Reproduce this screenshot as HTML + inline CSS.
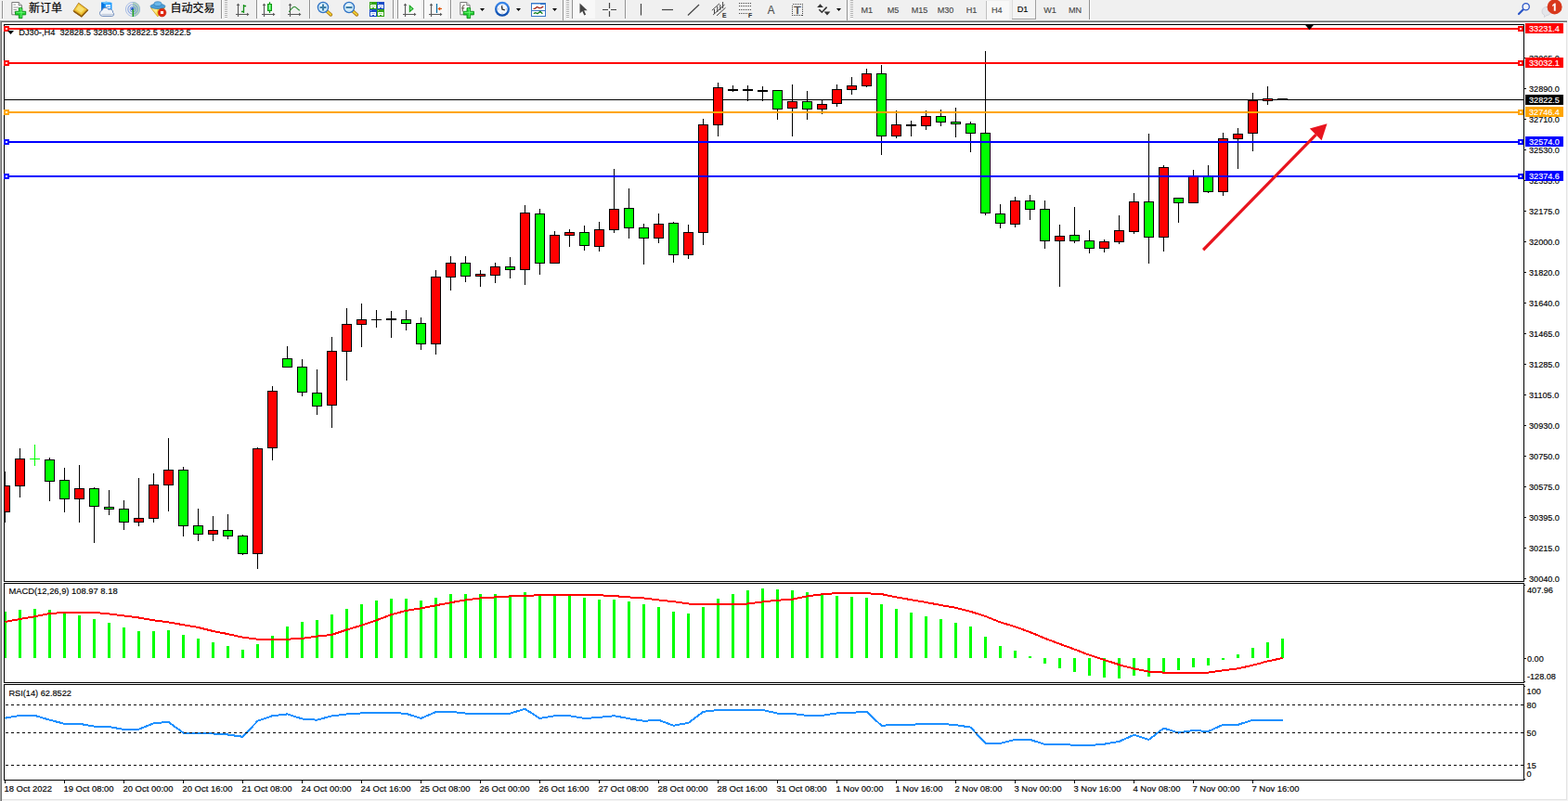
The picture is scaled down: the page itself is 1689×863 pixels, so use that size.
<!DOCTYPE html>
<html><head><meta charset="utf-8"><title>DJ30 H4</title>
<style>
html,body{margin:0;padding:0;background:#fff;overflow:hidden}
svg{display:block;font-family:"Liberation Sans",sans-serif}
rect{shape-rendering:crispEdges}
</style></head><body>
<svg width="1689" height="863" viewBox="0 0 1689 863">
<rect x="0" y="0" width="1689" height="863" fill="#fff"/>
<rect x="0" y="0" width="1689" height="22" fill="#f0f0f0"/>
<rect x="0" y="21" width="1689" height="1" fill="#f6f6f6"/>
<rect x="0" y="22" width="1689" height="1" fill="#a6a6a6"/>
<rect x="0" y="23" width="1689" height="1" fill="#6e6e6e"/>
<rect x="0" y="22" width="1" height="841" fill="#a0a0a0"/>
<rect x="1" y="23" width="1" height="840" fill="#6e6e6e"/>
<rect x="1688" y="22" width="1" height="841" fill="#f4f4f4"/>
<rect x="1687" y="24" width="1" height="838" fill="#e3e3e3"/>
<rect x="0" y="862" width="1689" height="1" fill="#f4f4f4"/>
<rect x="2" y="861" width="1686" height="1" fill="#e3e3e3"/>
<rect x="4" y="26" width="1638" height="1" fill="#000"/>
<rect x="4" y="26" width="1" height="601" fill="#000"/>
<rect x="1641" y="26" width="1" height="601" fill="#000"/>
<rect x="4" y="628" width="1" height="108" fill="#000"/>
<rect x="1641" y="628" width="1" height="108" fill="#000"/>
<rect x="4" y="737" width="1" height="104" fill="#000"/>
<rect x="1641" y="737" width="1" height="104" fill="#000"/>
<rect x="4" y="626" width="1638" height="1" fill="#000"/>
<rect x="4" y="628" width="1638" height="1" fill="#000"/>
<rect x="4" y="735" width="1638" height="1" fill="#000"/>
<rect x="4" y="737" width="1638" height="1" fill="#000"/>
<rect x="4" y="840" width="1638" height="1" fill="#000"/>
<rect x="1642" y="630" width="1" height="1" fill="#000"/>
<rect x="1642" y="734" width="1" height="1" fill="#000"/>
<rect x="1642" y="739" width="1" height="1" fill="#000"/>
<rect x="1642" y="839" width="1" height="1" fill="#000"/>
<rect x="5" y="107" width="1636" height="1" fill="#000"/>
<g id="candles">
<rect x="5" y="508" width="1" height="55" fill="#000"/>
<rect x="0" y="523" width="11" height="29" fill="#000"/>
<rect x="1" y="524" width="9" height="27" fill="#ff0000"/>
<rect x="21" y="483" width="1" height="53" fill="#000"/>
<rect x="16" y="494" width="11" height="30" fill="#000"/>
<rect x="17" y="495" width="9" height="28" fill="#ff0000"/>
<rect x="37" y="479" width="1" height="23" fill="#00ff00"/>
<rect x="32" y="494" width="11" height="1" fill="#00ff00"/>
<rect x="53" y="493" width="1" height="47" fill="#000"/>
<rect x="48" y="495" width="11" height="24" fill="#000"/>
<rect x="49" y="496" width="9" height="22" fill="#00ff00"/>
<rect x="69" y="504" width="1" height="48" fill="#000"/>
<rect x="64" y="517" width="11" height="21" fill="#000"/>
<rect x="65" y="518" width="9" height="19" fill="#00ff00"/>
<rect x="85" y="501" width="1" height="62" fill="#000"/>
<rect x="80" y="526" width="11" height="12" fill="#000"/>
<rect x="81" y="527" width="9" height="10" fill="#ff0000"/>
<rect x="101" y="525" width="1" height="60" fill="#000"/>
<rect x="96" y="526" width="11" height="20" fill="#000"/>
<rect x="97" y="527" width="9" height="18" fill="#00ff00"/>
<rect x="117" y="528" width="1" height="27" fill="#000"/>
<rect x="112" y="546" width="11" height="3" fill="#000"/>
<rect x="113" y="547" width="9" height="1" fill="#00ff00"/>
<rect x="133" y="539" width="1" height="32" fill="#000"/>
<rect x="128" y="548" width="11" height="15" fill="#000"/>
<rect x="129" y="549" width="9" height="13" fill="#00ff00"/>
<rect x="149" y="515" width="1" height="52" fill="#000"/>
<rect x="144" y="558" width="11" height="5" fill="#000"/>
<rect x="145" y="559" width="9" height="3" fill="#ff0000"/>
<rect x="165" y="510" width="1" height="53" fill="#000"/>
<rect x="160" y="522" width="11" height="37" fill="#000"/>
<rect x="161" y="523" width="9" height="35" fill="#ff0000"/>
<rect x="181" y="472" width="1" height="79" fill="#000"/>
<rect x="176" y="506" width="11" height="17" fill="#000"/>
<rect x="177" y="507" width="9" height="15" fill="#ff0000"/>
<rect x="197" y="503" width="1" height="75" fill="#000"/>
<rect x="192" y="506" width="11" height="61" fill="#000"/>
<rect x="193" y="507" width="9" height="59" fill="#00ff00"/>
<rect x="213" y="548" width="1" height="35" fill="#000"/>
<rect x="208" y="566" width="11" height="10" fill="#000"/>
<rect x="209" y="567" width="9" height="8" fill="#00ff00"/>
<rect x="229" y="556" width="1" height="27" fill="#000"/>
<rect x="224" y="571" width="11" height="5" fill="#000"/>
<rect x="225" y="572" width="9" height="3" fill="#ff0000"/>
<rect x="245" y="554" width="1" height="27" fill="#000"/>
<rect x="240" y="571" width="11" height="7" fill="#000"/>
<rect x="241" y="572" width="9" height="5" fill="#00ff00"/>
<rect x="261" y="576" width="1" height="22" fill="#000"/>
<rect x="256" y="577" width="11" height="20" fill="#000"/>
<rect x="257" y="578" width="9" height="18" fill="#00ff00"/>
<rect x="277" y="482" width="1" height="131" fill="#000"/>
<rect x="272" y="483" width="11" height="114" fill="#000"/>
<rect x="273" y="484" width="9" height="112" fill="#ff0000"/>
<rect x="293" y="416" width="1" height="80" fill="#000"/>
<rect x="288" y="421" width="11" height="62" fill="#000"/>
<rect x="289" y="422" width="9" height="60" fill="#ff0000"/>
<rect x="309" y="373" width="1" height="23" fill="#000"/>
<rect x="304" y="386" width="11" height="10" fill="#000"/>
<rect x="305" y="387" width="9" height="8" fill="#00ff00"/>
<rect x="325" y="387" width="1" height="40" fill="#000"/>
<rect x="320" y="395" width="11" height="28" fill="#000"/>
<rect x="321" y="396" width="9" height="26" fill="#00ff00"/>
<rect x="341" y="398" width="1" height="49" fill="#000"/>
<rect x="336" y="423" width="11" height="15" fill="#000"/>
<rect x="337" y="424" width="9" height="13" fill="#00ff00"/>
<rect x="357" y="363" width="1" height="98" fill="#000"/>
<rect x="352" y="378" width="11" height="59" fill="#000"/>
<rect x="353" y="379" width="9" height="57" fill="#ff0000"/>
<rect x="373" y="332" width="1" height="78" fill="#000"/>
<rect x="368" y="349" width="11" height="30" fill="#000"/>
<rect x="369" y="350" width="9" height="28" fill="#ff0000"/>
<rect x="389" y="327" width="1" height="47" fill="#000"/>
<rect x="384" y="344" width="11" height="6" fill="#000"/>
<rect x="385" y="345" width="9" height="4" fill="#ff0000"/>
<rect x="405" y="334" width="1" height="19" fill="#000"/>
<rect x="400" y="344" width="11" height="1" fill="#000"/>
<rect x="421" y="335" width="1" height="29" fill="#000"/>
<rect x="416" y="343" width="11" height="2" fill="#000"/>
<rect x="437" y="334" width="1" height="22" fill="#000"/>
<rect x="432" y="344" width="11" height="5" fill="#000"/>
<rect x="433" y="345" width="9" height="3" fill="#00ff00"/>
<rect x="453" y="342" width="1" height="35" fill="#000"/>
<rect x="448" y="348" width="11" height="23" fill="#000"/>
<rect x="449" y="349" width="9" height="21" fill="#00ff00"/>
<rect x="469" y="291" width="1" height="91" fill="#000"/>
<rect x="464" y="298" width="11" height="73" fill="#000"/>
<rect x="465" y="299" width="9" height="71" fill="#ff0000"/>
<rect x="485" y="276" width="1" height="37" fill="#000"/>
<rect x="480" y="283" width="11" height="16" fill="#000"/>
<rect x="481" y="284" width="9" height="14" fill="#ff0000"/>
<rect x="501" y="276" width="1" height="28" fill="#000"/>
<rect x="496" y="283" width="11" height="15" fill="#000"/>
<rect x="497" y="284" width="9" height="13" fill="#00ff00"/>
<rect x="517" y="291" width="1" height="18" fill="#000"/>
<rect x="512" y="295" width="11" height="3" fill="#000"/>
<rect x="513" y="296" width="9" height="1" fill="#ff0000"/>
<rect x="533" y="283" width="1" height="22" fill="#000"/>
<rect x="528" y="287" width="11" height="10" fill="#000"/>
<rect x="529" y="288" width="9" height="8" fill="#ff0000"/>
<rect x="549" y="277" width="1" height="23" fill="#000"/>
<rect x="544" y="287" width="11" height="4" fill="#000"/>
<rect x="545" y="288" width="9" height="2" fill="#00ff00"/>
<rect x="565" y="221" width="1" height="86" fill="#000"/>
<rect x="560" y="229" width="11" height="62" fill="#000"/>
<rect x="561" y="230" width="9" height="60" fill="#ff0000"/>
<rect x="581" y="225" width="1" height="71" fill="#000"/>
<rect x="576" y="230" width="11" height="54" fill="#000"/>
<rect x="577" y="231" width="9" height="52" fill="#00ff00"/>
<rect x="597" y="249" width="1" height="34" fill="#000"/>
<rect x="592" y="253" width="11" height="31" fill="#000"/>
<rect x="593" y="254" width="9" height="29" fill="#ff0000"/>
<rect x="613" y="247" width="1" height="19" fill="#000"/>
<rect x="608" y="250" width="11" height="4" fill="#000"/>
<rect x="609" y="251" width="9" height="2" fill="#ff0000"/>
<rect x="629" y="243" width="1" height="27" fill="#000"/>
<rect x="624" y="250" width="11" height="15" fill="#000"/>
<rect x="625" y="251" width="9" height="13" fill="#00ff00"/>
<rect x="645" y="239" width="1" height="32" fill="#000"/>
<rect x="640" y="247" width="11" height="19" fill="#000"/>
<rect x="641" y="248" width="9" height="17" fill="#ff0000"/>
<rect x="661" y="182" width="1" height="69" fill="#000"/>
<rect x="656" y="225" width="11" height="23" fill="#000"/>
<rect x="657" y="226" width="9" height="21" fill="#ff0000"/>
<rect x="677" y="203" width="1" height="54" fill="#000"/>
<rect x="672" y="224" width="11" height="22" fill="#000"/>
<rect x="673" y="225" width="9" height="20" fill="#00ff00"/>
<rect x="693" y="241" width="1" height="44" fill="#000"/>
<rect x="688" y="245" width="11" height="12" fill="#000"/>
<rect x="689" y="246" width="9" height="10" fill="#00ff00"/>
<rect x="709" y="230" width="1" height="32" fill="#000"/>
<rect x="704" y="241" width="11" height="16" fill="#000"/>
<rect x="705" y="242" width="9" height="14" fill="#ff0000"/>
<rect x="725" y="239" width="1" height="44" fill="#000"/>
<rect x="720" y="240" width="11" height="35" fill="#000"/>
<rect x="721" y="241" width="9" height="33" fill="#00ff00"/>
<rect x="741" y="242" width="1" height="37" fill="#000"/>
<rect x="736" y="250" width="11" height="25" fill="#000"/>
<rect x="737" y="251" width="9" height="23" fill="#ff0000"/>
<rect x="757" y="128" width="1" height="136" fill="#000"/>
<rect x="752" y="134" width="11" height="117" fill="#000"/>
<rect x="753" y="135" width="9" height="115" fill="#ff0000"/>
<rect x="773" y="89" width="1" height="58" fill="#000"/>
<rect x="768" y="94" width="11" height="41" fill="#000"/>
<rect x="769" y="95" width="9" height="39" fill="#ff0000"/>
<rect x="789" y="92" width="1" height="7" fill="#000"/>
<rect x="784" y="96" width="11" height="2" fill="#000"/>
<rect x="805" y="92" width="1" height="17" fill="#000"/>
<rect x="800" y="96" width="11" height="2" fill="#000"/>
<rect x="821" y="93" width="1" height="16" fill="#000"/>
<rect x="816" y="97" width="11" height="2" fill="#000"/>
<rect x="837" y="97" width="1" height="32" fill="#000"/>
<rect x="832" y="97" width="11" height="21" fill="#000"/>
<rect x="833" y="98" width="9" height="19" fill="#00ff00"/>
<rect x="853" y="91" width="1" height="56" fill="#000"/>
<rect x="848" y="109" width="11" height="8" fill="#000"/>
<rect x="849" y="110" width="9" height="6" fill="#ff0000"/>
<rect x="869" y="98" width="1" height="31" fill="#000"/>
<rect x="864" y="109" width="11" height="9" fill="#000"/>
<rect x="865" y="110" width="9" height="7" fill="#00ff00"/>
<rect x="885" y="108" width="1" height="15" fill="#000"/>
<rect x="880" y="112" width="11" height="6" fill="#000"/>
<rect x="881" y="113" width="9" height="4" fill="#ff0000"/>
<rect x="901" y="91" width="1" height="24" fill="#000"/>
<rect x="896" y="96" width="11" height="16" fill="#000"/>
<rect x="897" y="97" width="9" height="14" fill="#ff0000"/>
<rect x="917" y="83" width="1" height="19" fill="#000"/>
<rect x="912" y="92" width="11" height="5" fill="#000"/>
<rect x="913" y="93" width="9" height="3" fill="#ff0000"/>
<rect x="933" y="74" width="1" height="20" fill="#000"/>
<rect x="928" y="79" width="11" height="14" fill="#000"/>
<rect x="929" y="80" width="9" height="12" fill="#ff0000"/>
<rect x="949" y="70" width="1" height="97" fill="#000"/>
<rect x="944" y="79" width="11" height="68" fill="#000"/>
<rect x="945" y="80" width="9" height="66" fill="#00ff00"/>
<rect x="965" y="119" width="1" height="30" fill="#000"/>
<rect x="960" y="134" width="11" height="13" fill="#000"/>
<rect x="961" y="135" width="9" height="11" fill="#ff0000"/>
<rect x="981" y="130" width="1" height="17" fill="#000"/>
<rect x="976" y="134" width="11" height="2" fill="#000"/>
<rect x="997" y="119" width="1" height="21" fill="#000"/>
<rect x="992" y="125" width="11" height="11" fill="#000"/>
<rect x="993" y="126" width="9" height="9" fill="#ff0000"/>
<rect x="1013" y="118" width="1" height="18" fill="#000"/>
<rect x="1008" y="125" width="11" height="7" fill="#000"/>
<rect x="1009" y="126" width="9" height="5" fill="#00ff00"/>
<rect x="1029" y="116" width="1" height="32" fill="#000"/>
<rect x="1024" y="131" width="11" height="3" fill="#000"/>
<rect x="1025" y="132" width="9" height="1" fill="#00ff00"/>
<rect x="1045" y="131" width="1" height="33" fill="#000"/>
<rect x="1040" y="133" width="11" height="11" fill="#000"/>
<rect x="1041" y="134" width="9" height="9" fill="#00ff00"/>
<rect x="1061" y="55" width="1" height="177" fill="#000"/>
<rect x="1056" y="143" width="11" height="87" fill="#000"/>
<rect x="1057" y="144" width="9" height="85" fill="#00ff00"/>
<rect x="1077" y="220" width="1" height="26" fill="#000"/>
<rect x="1072" y="230" width="11" height="11" fill="#000"/>
<rect x="1073" y="231" width="9" height="9" fill="#00ff00"/>
<rect x="1093" y="212" width="1" height="33" fill="#000"/>
<rect x="1088" y="216" width="11" height="26" fill="#000"/>
<rect x="1089" y="217" width="9" height="24" fill="#ff0000"/>
<rect x="1109" y="210" width="1" height="27" fill="#000"/>
<rect x="1104" y="216" width="11" height="10" fill="#000"/>
<rect x="1105" y="217" width="9" height="8" fill="#00ff00"/>
<rect x="1125" y="216" width="1" height="52" fill="#000"/>
<rect x="1120" y="225" width="11" height="35" fill="#000"/>
<rect x="1121" y="226" width="9" height="33" fill="#00ff00"/>
<rect x="1141" y="242" width="1" height="67" fill="#000"/>
<rect x="1136" y="254" width="11" height="6" fill="#000"/>
<rect x="1137" y="255" width="9" height="4" fill="#ff0000"/>
<rect x="1157" y="223" width="1" height="39" fill="#000"/>
<rect x="1152" y="253" width="11" height="7" fill="#000"/>
<rect x="1153" y="254" width="9" height="5" fill="#00ff00"/>
<rect x="1173" y="248" width="1" height="25" fill="#000"/>
<rect x="1168" y="259" width="11" height="9" fill="#000"/>
<rect x="1169" y="260" width="9" height="7" fill="#00ff00"/>
<rect x="1189" y="258" width="1" height="14" fill="#000"/>
<rect x="1184" y="260" width="11" height="8" fill="#000"/>
<rect x="1185" y="261" width="9" height="6" fill="#ff0000"/>
<rect x="1205" y="232" width="1" height="31" fill="#000"/>
<rect x="1200" y="248" width="11" height="13" fill="#000"/>
<rect x="1201" y="249" width="9" height="11" fill="#ff0000"/>
<rect x="1221" y="208" width="1" height="44" fill="#000"/>
<rect x="1216" y="217" width="11" height="33" fill="#000"/>
<rect x="1217" y="218" width="9" height="31" fill="#ff0000"/>
<rect x="1237" y="144" width="1" height="140" fill="#000"/>
<rect x="1232" y="217" width="11" height="39" fill="#000"/>
<rect x="1233" y="218" width="9" height="37" fill="#00ff00"/>
<rect x="1253" y="178" width="1" height="93" fill="#000"/>
<rect x="1248" y="180" width="11" height="76" fill="#000"/>
<rect x="1249" y="181" width="9" height="74" fill="#ff0000"/>
<rect x="1269" y="213" width="1" height="27" fill="#000"/>
<rect x="1264" y="213" width="11" height="6" fill="#000"/>
<rect x="1265" y="214" width="9" height="4" fill="#00ff00"/>
<rect x="1285" y="183" width="1" height="36" fill="#000"/>
<rect x="1280" y="190" width="11" height="29" fill="#000"/>
<rect x="1281" y="191" width="9" height="27" fill="#ff0000"/>
<rect x="1301" y="178" width="1" height="30" fill="#000"/>
<rect x="1296" y="190" width="11" height="17" fill="#000"/>
<rect x="1297" y="191" width="9" height="15" fill="#00ff00"/>
<rect x="1317" y="143" width="1" height="68" fill="#000"/>
<rect x="1312" y="149" width="11" height="58" fill="#000"/>
<rect x="1313" y="150" width="9" height="56" fill="#ff0000"/>
<rect x="1333" y="138" width="1" height="44" fill="#000"/>
<rect x="1328" y="144" width="11" height="6" fill="#000"/>
<rect x="1329" y="145" width="9" height="4" fill="#ff0000"/>
<rect x="1349" y="100" width="1" height="63" fill="#000"/>
<rect x="1344" y="108" width="11" height="36" fill="#000"/>
<rect x="1345" y="109" width="9" height="34" fill="#ff0000"/>
<rect x="1365" y="93" width="1" height="20" fill="#000"/>
<rect x="1360" y="106" width="11" height="3" fill="#000"/>
<rect x="1361" y="107" width="9" height="1" fill="#ff0000"/>
<rect x="1381" y="106" width="1" height="1" fill="#000"/>
<rect x="1376" y="106" width="11" height="1" fill="#000"/>
</g>
<rect x="2" y="100" width="2" height="500" fill="#fff"/>
<rect x="0" y="22" width="1" height="841" fill="#a0a0a0"/>
<rect x="1" y="23" width="1" height="840" fill="#6e6e6e"/>
<rect x="4" y="26" width="1" height="601" fill="#000"/>
<rect x="4" y="30" width="1637" height="2" fill="#ff0000"/>
<rect x="4" y="28" width="6" height="6" fill="#ff0000"/>
<rect x="6" y="30" width="2" height="2" fill="#fff"/>
<rect x="1635" y="28" width="6" height="6" fill="#ff0000"/>
<rect x="1637" y="30" width="2" height="2" fill="#fff"/>
<rect x="1643" y="25" width="41" height="11" fill="#ff0000"/>
<text transform="translate(1647,34.2) scale(0.94,1)" font-size="9.7" fill="#fff" stroke="#fff" stroke-width="0.15" text-anchor="start">33231.4</text>
<rect x="4" y="67" width="1637" height="2" fill="#ff0000"/>
<rect x="4" y="65" width="6" height="6" fill="#ff0000"/>
<rect x="6" y="67" width="2" height="2" fill="#fff"/>
<rect x="1635" y="65" width="6" height="6" fill="#ff0000"/>
<rect x="1637" y="67" width="2" height="2" fill="#fff"/>
<rect x="1643" y="62" width="41" height="11" fill="#ff0000"/>
<text transform="translate(1647,71.2) scale(0.94,1)" font-size="9.7" fill="#fff" stroke="#fff" stroke-width="0.15" text-anchor="start">33032.1</text>
<rect x="4" y="120" width="1637" height="2" fill="#ffa500"/>
<rect x="4" y="118" width="6" height="6" fill="#ffa500"/>
<rect x="6" y="120" width="2" height="2" fill="#fff"/>
<rect x="1635" y="118" width="6" height="6" fill="#ffa500"/>
<rect x="1637" y="120" width="2" height="2" fill="#fff"/>
<rect x="1643" y="115" width="41" height="11" fill="#ffa500"/>
<text transform="translate(1647,124.2) scale(0.94,1)" font-size="9.7" fill="#fff" stroke="#fff" stroke-width="0.15" text-anchor="start">32746.4</text>
<rect x="4" y="152" width="1637" height="2" fill="#0000ff"/>
<rect x="4" y="150" width="6" height="6" fill="#0000ff"/>
<rect x="6" y="152" width="2" height="2" fill="#fff"/>
<rect x="1635" y="150" width="6" height="6" fill="#0000ff"/>
<rect x="1637" y="152" width="2" height="2" fill="#fff"/>
<rect x="1643" y="147" width="41" height="11" fill="#0000ff"/>
<text transform="translate(1647,156.2) scale(0.94,1)" font-size="9.7" fill="#fff" stroke="#fff" stroke-width="0.15" text-anchor="start">32574.0</text>
<rect x="4" y="189" width="1637" height="2" fill="#0000ff"/>
<rect x="4" y="187" width="6" height="6" fill="#0000ff"/>
<rect x="6" y="189" width="2" height="2" fill="#fff"/>
<rect x="1635" y="187" width="6" height="6" fill="#0000ff"/>
<rect x="1637" y="189" width="2" height="2" fill="#fff"/>
<rect x="1643" y="184" width="41" height="11" fill="#0000ff"/>
<text transform="translate(1647,193.2) scale(0.94,1)" font-size="9.7" fill="#fff" stroke="#fff" stroke-width="0.15" text-anchor="start">32374.6</text>
<rect x="1642" y="62" width="2" height="1" fill="#000"/>
<text transform="translate(1647,65.8) scale(0.94,1)" font-size="9.7" fill="#000" stroke="#000" stroke-width="0.15" text-anchor="start">33065.0</text>
<rect x="1642" y="95" width="2" height="1" fill="#000"/>
<text transform="translate(1647,98.8) scale(0.94,1)" font-size="9.7" fill="#000" stroke="#000" stroke-width="0.15" text-anchor="start">32890.0</text>
<rect x="1642" y="128" width="2" height="1" fill="#000"/>
<text transform="translate(1647,131.8) scale(0.94,1)" font-size="9.7" fill="#000" stroke="#000" stroke-width="0.15" text-anchor="start">32710.0</text>
<rect x="1642" y="161" width="2" height="1" fill="#000"/>
<text transform="translate(1647,164.8) scale(0.94,1)" font-size="9.7" fill="#000" stroke="#000" stroke-width="0.15" text-anchor="start">32530.0</text>
<rect x="1642" y="194" width="2" height="1" fill="#000"/>
<text transform="translate(1647,197.8) scale(0.94,1)" font-size="9.7" fill="#000" stroke="#000" stroke-width="0.15" text-anchor="start">32355.0</text>
<rect x="1642" y="227" width="2" height="1" fill="#000"/>
<text transform="translate(1647,230.8) scale(0.94,1)" font-size="9.7" fill="#000" stroke="#000" stroke-width="0.15" text-anchor="start">32175.0</text>
<rect x="1642" y="260" width="2" height="1" fill="#000"/>
<text transform="translate(1647,263.8) scale(0.94,1)" font-size="9.7" fill="#000" stroke="#000" stroke-width="0.15" text-anchor="start">32000.0</text>
<rect x="1642" y="293" width="2" height="1" fill="#000"/>
<text transform="translate(1647,296.8) scale(0.94,1)" font-size="9.7" fill="#000" stroke="#000" stroke-width="0.15" text-anchor="start">31820.0</text>
<rect x="1642" y="326" width="2" height="1" fill="#000"/>
<text transform="translate(1647,329.8) scale(0.94,1)" font-size="9.7" fill="#000" stroke="#000" stroke-width="0.15" text-anchor="start">31640.0</text>
<rect x="1642" y="359" width="2" height="1" fill="#000"/>
<text transform="translate(1647,362.8) scale(0.94,1)" font-size="9.7" fill="#000" stroke="#000" stroke-width="0.15" text-anchor="start">31465.0</text>
<rect x="1642" y="392" width="2" height="1" fill="#000"/>
<text transform="translate(1647,395.8) scale(0.94,1)" font-size="9.7" fill="#000" stroke="#000" stroke-width="0.15" text-anchor="start">31285.0</text>
<rect x="1642" y="425" width="2" height="1" fill="#000"/>
<text transform="translate(1647,428.8) scale(0.94,1)" font-size="9.7" fill="#000" stroke="#000" stroke-width="0.15" text-anchor="start">31105.0</text>
<rect x="1642" y="458" width="2" height="1" fill="#000"/>
<text transform="translate(1647,461.8) scale(0.94,1)" font-size="9.7" fill="#000" stroke="#000" stroke-width="0.15" text-anchor="start">30930.0</text>
<rect x="1642" y="491" width="2" height="1" fill="#000"/>
<text transform="translate(1647,494.8) scale(0.94,1)" font-size="9.7" fill="#000" stroke="#000" stroke-width="0.15" text-anchor="start">30750.0</text>
<rect x="1642" y="524" width="2" height="1" fill="#000"/>
<text transform="translate(1647,527.8) scale(0.94,1)" font-size="9.7" fill="#000" stroke="#000" stroke-width="0.15" text-anchor="start">30575.0</text>
<rect x="1642" y="557" width="2" height="1" fill="#000"/>
<text transform="translate(1647,560.8) scale(0.94,1)" font-size="9.7" fill="#000" stroke="#000" stroke-width="0.15" text-anchor="start">30395.0</text>
<rect x="1642" y="590" width="2" height="1" fill="#000"/>
<text transform="translate(1647,593.8) scale(0.94,1)" font-size="9.7" fill="#000" stroke="#000" stroke-width="0.15" text-anchor="start">30215.0</text>
<rect x="1642" y="623" width="2" height="1" fill="#000"/>
<text transform="translate(1647,626.8) scale(0.94,1)" font-size="9.7" fill="#000" stroke="#000" stroke-width="0.15" text-anchor="start">30040.0</text>
<rect x="1643" y="25" width="41" height="11" fill="#ff0000"/>
<text transform="translate(1647,34.2) scale(0.94,1)" font-size="9.7" fill="#fff" stroke="#fff" stroke-width="0.15" text-anchor="start">33231.4</text>
<rect x="1643" y="62" width="41" height="11" fill="#ff0000"/>
<text transform="translate(1647,71.2) scale(0.94,1)" font-size="9.7" fill="#fff" stroke="#fff" stroke-width="0.15" text-anchor="start">33032.1</text>
<rect x="1643" y="102" width="41" height="11" fill="#000"/>
<text transform="translate(1647,110.7) scale(0.94,1)" font-size="9.7" fill="#fff" stroke="#fff" stroke-width="0.15" text-anchor="start">32822.5</text>
<rect x="1643" y="115" width="41" height="11" fill="#ffa500"/>
<text transform="translate(1647,124.2) scale(0.94,1)" font-size="9.7" fill="#fff" stroke="#fff" stroke-width="0.15" text-anchor="start">32746.4</text>
<rect x="1643" y="147" width="41" height="11" fill="#0000ff"/>
<text transform="translate(1647,156.2) scale(0.94,1)" font-size="9.7" fill="#fff" stroke="#fff" stroke-width="0.15" text-anchor="start">32574.0</text>
<rect x="1643" y="184" width="41" height="11" fill="#0000ff"/>
<text transform="translate(1647,193.2) scale(0.94,1)" font-size="9.7" fill="#fff" stroke="#fff" stroke-width="0.15" text-anchor="start">32374.6</text>
<path d="M8 33h7l-3.500 4z" fill="#000"/>
<text transform="translate(20.3,37.6) scale(0.953,1)" font-size="9.7" fill="#000" stroke="#000" stroke-width="0.15" text-anchor="start">DJ30-,H4&#160; 32828.5 32830.5 32822.5 32822.5</text>
<path d="M1405.700 26.500h9.600l-4.800 5.700z" fill="#000"/>
<g fill="#e8141e" stroke="none"><path d="M1295.0 268.0 L1297.2 270.4 L1418.6 146.2 L1416.4 143.9z"/><path d="M1429.5 133.2 L1410.8 138.6 L1423.6 151.2z"/></g>
<text transform="translate(9.4,640.4) scale(0.967,1)" font-size="9.700" fill="#000" stroke="#000" stroke-width="0.15" text-anchor="start">MACD(12,26,9) 108.97 8.18</text>
<rect x="4" y="659" width="3" height="50" fill="#00ff00"/>
<rect x="20" y="657" width="3" height="52" fill="#00ff00"/>
<rect x="36" y="656" width="3" height="53" fill="#00ff00"/>
<rect x="52" y="657" width="3" height="52" fill="#00ff00"/>
<rect x="68" y="660" width="3" height="49" fill="#00ff00"/>
<rect x="84" y="663" width="3" height="46" fill="#00ff00"/>
<rect x="100" y="667" width="3" height="42" fill="#00ff00"/>
<rect x="116" y="671" width="3" height="38" fill="#00ff00"/>
<rect x="132" y="676" width="3" height="33" fill="#00ff00"/>
<rect x="148" y="680" width="3" height="29" fill="#00ff00"/>
<rect x="164" y="680" width="3" height="29" fill="#00ff00"/>
<rect x="180" y="679" width="3" height="30" fill="#00ff00"/>
<rect x="196" y="684" width="3" height="25" fill="#00ff00"/>
<rect x="212" y="688" width="3" height="21" fill="#00ff00"/>
<rect x="228" y="692" width="3" height="17" fill="#00ff00"/>
<rect x="244" y="696" width="3" height="13" fill="#00ff00"/>
<rect x="260" y="700" width="3" height="9" fill="#00ff00"/>
<rect x="276" y="694" width="3" height="15" fill="#00ff00"/>
<rect x="292" y="685" width="3" height="24" fill="#00ff00"/>
<rect x="308" y="675" width="3" height="34" fill="#00ff00"/>
<rect x="324" y="670" width="3" height="39" fill="#00ff00"/>
<rect x="340" y="668" width="3" height="41" fill="#00ff00"/>
<rect x="356" y="662" width="3" height="47" fill="#00ff00"/>
<rect x="372" y="656" width="3" height="53" fill="#00ff00"/>
<rect x="388" y="651" width="3" height="58" fill="#00ff00"/>
<rect x="404" y="647" width="3" height="62" fill="#00ff00"/>
<rect x="420" y="645" width="3" height="64" fill="#00ff00"/>
<rect x="436" y="645" width="3" height="64" fill="#00ff00"/>
<rect x="452" y="647" width="3" height="62" fill="#00ff00"/>
<rect x="468" y="644" width="3" height="65" fill="#00ff00"/>
<rect x="484" y="640" width="3" height="69" fill="#00ff00"/>
<rect x="500" y="640" width="3" height="69" fill="#00ff00"/>
<rect x="516" y="640" width="3" height="69" fill="#00ff00"/>
<rect x="532" y="640" width="3" height="69" fill="#00ff00"/>
<rect x="548" y="641" width="3" height="68" fill="#00ff00"/>
<rect x="564" y="638" width="3" height="71" fill="#00ff00"/>
<rect x="580" y="642" width="3" height="67" fill="#00ff00"/>
<rect x="596" y="641" width="3" height="68" fill="#00ff00"/>
<rect x="612" y="642" width="3" height="67" fill="#00ff00"/>
<rect x="628" y="644" width="3" height="65" fill="#00ff00"/>
<rect x="644" y="646" width="3" height="63" fill="#00ff00"/>
<rect x="660" y="646" width="3" height="63" fill="#00ff00"/>
<rect x="676" y="648" width="3" height="61" fill="#00ff00"/>
<rect x="692" y="651" width="3" height="58" fill="#00ff00"/>
<rect x="708" y="654" width="3" height="55" fill="#00ff00"/>
<rect x="724" y="659" width="3" height="50" fill="#00ff00"/>
<rect x="740" y="661" width="3" height="48" fill="#00ff00"/>
<rect x="756" y="654" width="3" height="55" fill="#00ff00"/>
<rect x="772" y="645" width="3" height="64" fill="#00ff00"/>
<rect x="788" y="640" width="3" height="69" fill="#00ff00"/>
<rect x="804" y="636" width="3" height="73" fill="#00ff00"/>
<rect x="820" y="634" width="3" height="75" fill="#00ff00"/>
<rect x="836" y="635" width="3" height="74" fill="#00ff00"/>
<rect x="852" y="636" width="3" height="73" fill="#00ff00"/>
<rect x="868" y="638" width="3" height="71" fill="#00ff00"/>
<rect x="884" y="641" width="3" height="68" fill="#00ff00"/>
<rect x="900" y="642" width="3" height="67" fill="#00ff00"/>
<rect x="916" y="643" width="3" height="66" fill="#00ff00"/>
<rect x="932" y="644" width="3" height="65" fill="#00ff00"/>
<rect x="948" y="651" width="3" height="58" fill="#00ff00"/>
<rect x="964" y="656" width="3" height="53" fill="#00ff00"/>
<rect x="980" y="660" width="3" height="49" fill="#00ff00"/>
<rect x="996" y="664" width="3" height="45" fill="#00ff00"/>
<rect x="1012" y="667" width="3" height="42" fill="#00ff00"/>
<rect x="1028" y="671" width="3" height="38" fill="#00ff00"/>
<rect x="1044" y="675" width="3" height="34" fill="#00ff00"/>
<rect x="1060" y="686" width="3" height="23" fill="#00ff00"/>
<rect x="1076" y="696" width="3" height="13" fill="#00ff00"/>
<rect x="1092" y="701" width="3" height="8" fill="#00ff00"/>
<rect x="1108" y="707" width="3" height="2" fill="#00ff00"/>
<rect x="1124" y="709" width="3" height="6" fill="#00ff00"/>
<rect x="1140" y="709" width="3" height="11" fill="#00ff00"/>
<rect x="1156" y="709" width="3" height="15" fill="#00ff00"/>
<rect x="1172" y="709" width="3" height="19" fill="#00ff00"/>
<rect x="1188" y="709" width="3" height="21" fill="#00ff00"/>
<rect x="1204" y="709" width="3" height="22" fill="#00ff00"/>
<rect x="1220" y="709" width="3" height="19" fill="#00ff00"/>
<rect x="1236" y="709" width="3" height="20" fill="#00ff00"/>
<rect x="1252" y="709" width="3" height="15" fill="#00ff00"/>
<rect x="1268" y="709" width="3" height="13" fill="#00ff00"/>
<rect x="1284" y="709" width="3" height="10" fill="#00ff00"/>
<rect x="1300" y="709" width="3" height="8" fill="#00ff00"/>
<rect x="1316" y="709" width="3" height="2" fill="#00ff00"/>
<rect x="1332" y="705" width="3" height="4" fill="#00ff00"/>
<rect x="1348" y="698" width="3" height="11" fill="#00ff00"/>
<rect x="1364" y="692" width="3" height="17" fill="#00ff00"/>
<rect x="1380" y="688" width="3" height="21" fill="#00ff00"/>
<polyline points="5.5,669.9 21.5,667.0 37.5,664.3 53.5,661.0 69.5,659.9 85.5,659.7 101.5,659.9 117.5,661.5 133.5,663.5 149.5,665.5 165.5,668.3 181.5,670.4 197.5,673.2 213.5,676.0 229.5,680.0 245.5,683.1 261.5,686.7 277.5,688.7 293.5,688.7 309.5,688.7 325.5,687.9 341.5,685.6 357.5,683.9 373.5,678.5 389.5,673.7 405.5,668.3 421.5,662.2 437.5,657.9 453.5,655.4 469.5,652.3 485.5,649.2 501.5,646.4 517.5,644.4 533.5,643.4 549.5,642.4 565.5,642.1 581.5,641.1 597.5,640.8 613.5,640.8 629.5,640.8 645.5,641.3 661.5,642.1 677.5,643.4 693.5,644.4 709.5,646.4 725.5,648.2 741.5,650.5 757.5,651.0 773.5,651.0 789.5,651.0 805.5,650.5 821.5,648.5 837.5,646.7 853.5,645.7 869.5,642.4 885.5,640.3 901.5,639.1 917.5,639.1 933.5,639.3 949.5,640.1 965.5,643.4 981.5,646.2 997.5,649.0 1013.5,652.0 1029.5,654.8 1045.5,658.9 1061.5,664.0 1077.5,670.4 1093.5,675.2 1109.5,681.1 1125.5,687.7 1141.5,693.8 1157.5,699.6 1173.5,705.8 1189.5,710.9 1205.5,716.2 1221.5,720.5 1237.5,723.6 1253.5,724.6 1269.5,724.6 1285.5,724.6 1301.5,724.6 1317.5,722.3 1333.5,720.3 1349.5,716.7 1365.5,712.4 1381.5,709.0" fill="none" stroke="#ff0000" stroke-width="2" shape-rendering="crispEdges"/>
<rect x="2" y="629" width="2" height="106" fill="#fff"/>
<rect x="4" y="629" width="1" height="106" fill="#000"/>
<rect x="1642" y="709" width="2" height="1" fill="#000"/>
<text transform="translate(1645,638.9) scale(0.94,1)" font-size="9.7" fill="#000" stroke="#000" stroke-width="0.15" text-anchor="start">407.96</text>
<text transform="translate(1645,712.9) scale(0.94,1)" font-size="9.7" fill="#000" stroke="#000" stroke-width="0.15" text-anchor="start">0.00</text>
<text transform="translate(1645,732) scale(0.94,1)" font-size="9.7" fill="#000" stroke="#000" stroke-width="0.15" text-anchor="start">-128.08</text>
<text transform="translate(9.4,749.8) scale(0.95,1)" font-size="9.7" fill="#000" stroke="#000" stroke-width="0.15" text-anchor="start">RSI(14) 62.8522</text>
<polyline points="5.5,773.7 21.5,770.9 37.5,770.9 53.5,775.7 69.5,779.8 85.5,779.8 101.5,782.6 117.5,783.1 133.5,785.9 149.5,785.7 165.5,779.3 181.5,777.8 197.5,789.7 213.5,789.7 229.5,790.5 245.5,791.5 261.5,793.8 277.5,776.8 293.5,771.2 309.5,769.4 325.5,774.5 341.5,775.7 357.5,771.4 373.5,769.4 389.5,768.4 405.5,767.8 421.5,767.8 437.5,768.9 453.5,774.0 469.5,767.1 485.5,766.8 501.5,768.6 517.5,768.6 533.5,768.6 549.5,768.6 565.5,763.8 581.5,774.0 597.5,771.2 613.5,771.2 629.5,774.0 645.5,772.9 661.5,771.2 677.5,774.2 693.5,776.8 709.5,775.7 725.5,781.8 741.5,778.8 757.5,766.8 773.5,765.0 789.5,765.0 805.5,765.0 821.5,765.0 837.5,768.6 853.5,768.9 869.5,770.9 885.5,770.9 901.5,768.4 917.5,767.8 933.5,766.8 949.5,781.8 965.5,780.8 981.5,780.8 997.5,779.8 1013.5,779.8 1029.5,781.1 1045.5,783.6 1061.5,800.9 1077.5,800.9 1093.5,796.9 1109.5,796.9 1125.5,802.0 1141.5,802.0 1157.5,802.7 1173.5,803.0 1189.5,801.7 1205.5,798.9 1221.5,791.8 1237.5,796.9 1253.5,784.6 1269.5,789.5 1285.5,786.9 1301.5,788.0 1317.5,780.8 1333.5,780.8 1349.5,775.7 1365.5,775.7 1381.5,775.7" fill="none" stroke="#1e90ff" stroke-width="2" shape-rendering="crispEdges"/>
<path d="M6 759.5H1641" stroke="#000" stroke-width="1" stroke-dasharray="3 3" shape-rendering="crispEdges"/>
<path d="M6 789.5H1641" stroke="#000" stroke-width="1" stroke-dasharray="3 3" shape-rendering="crispEdges"/>
<path d="M6 824.5H1641" stroke="#000" stroke-width="1" stroke-dasharray="3 3" shape-rendering="crispEdges"/>
<text transform="translate(1644.6,748) scale(0.94,1)" font-size="9.7" fill="#000" stroke="#000" stroke-width="0.15" text-anchor="start">100</text>
<text transform="translate(1644.6,763) scale(0.94,1)" font-size="9.7" fill="#000" stroke="#000" stroke-width="0.15" text-anchor="start">80</text>
<text transform="translate(1644.6,793) scale(0.94,1)" font-size="9.7" fill="#000" stroke="#000" stroke-width="0.15" text-anchor="start">50</text>
<text transform="translate(1644.6,828) scale(0.94,1)" font-size="9.7" fill="#000" stroke="#000" stroke-width="0.15" text-anchor="start">15</text>
<text transform="translate(1644.6,837) scale(0.94,1)" font-size="9.7" fill="#000" stroke="#000" stroke-width="0.15" text-anchor="start">0</text>
<rect x="5" y="841" width="1" height="3" fill="#000"/>
<text transform="translate(4.5,853) scale(0.975,1)" font-size="9.7" fill="#000" stroke="#000" stroke-width="0.15" text-anchor="start">18 Oct 2022</text>
<rect x="69" y="841" width="1" height="3" fill="#000"/>
<text transform="translate(68.5,853) scale(0.975,1)" font-size="9.7" fill="#000" stroke="#000" stroke-width="0.15" text-anchor="start">19 Oct 08:00</text>
<rect x="133" y="841" width="1" height="3" fill="#000"/>
<text transform="translate(132.5,853) scale(0.975,1)" font-size="9.7" fill="#000" stroke="#000" stroke-width="0.15" text-anchor="start">20 Oct 00:00</text>
<rect x="197" y="841" width="1" height="3" fill="#000"/>
<text transform="translate(196.5,853) scale(0.975,1)" font-size="9.7" fill="#000" stroke="#000" stroke-width="0.15" text-anchor="start">20 Oct 16:00</text>
<rect x="261" y="841" width="1" height="3" fill="#000"/>
<text transform="translate(260.5,853) scale(0.975,1)" font-size="9.7" fill="#000" stroke="#000" stroke-width="0.15" text-anchor="start">21 Oct 08:00</text>
<rect x="325" y="841" width="1" height="3" fill="#000"/>
<text transform="translate(324.5,853) scale(0.975,1)" font-size="9.7" fill="#000" stroke="#000" stroke-width="0.15" text-anchor="start">24 Oct 00:00</text>
<rect x="389" y="841" width="1" height="3" fill="#000"/>
<text transform="translate(388.5,853) scale(0.975,1)" font-size="9.7" fill="#000" stroke="#000" stroke-width="0.15" text-anchor="start">24 Oct 16:00</text>
<rect x="453" y="841" width="1" height="3" fill="#000"/>
<text transform="translate(452.5,853) scale(0.975,1)" font-size="9.7" fill="#000" stroke="#000" stroke-width="0.15" text-anchor="start">25 Oct 08:00</text>
<rect x="517" y="841" width="1" height="3" fill="#000"/>
<text transform="translate(516.5,853) scale(0.975,1)" font-size="9.7" fill="#000" stroke="#000" stroke-width="0.15" text-anchor="start">26 Oct 00:00</text>
<rect x="581" y="841" width="1" height="3" fill="#000"/>
<text transform="translate(580.5,853) scale(0.975,1)" font-size="9.7" fill="#000" stroke="#000" stroke-width="0.15" text-anchor="start">26 Oct 16:00</text>
<rect x="645" y="841" width="1" height="3" fill="#000"/>
<text transform="translate(644.5,853) scale(0.975,1)" font-size="9.7" fill="#000" stroke="#000" stroke-width="0.15" text-anchor="start">27 Oct 08:00</text>
<rect x="709" y="841" width="1" height="3" fill="#000"/>
<text transform="translate(708.5,853) scale(0.975,1)" font-size="9.7" fill="#000" stroke="#000" stroke-width="0.15" text-anchor="start">28 Oct 00:00</text>
<rect x="773" y="841" width="1" height="3" fill="#000"/>
<text transform="translate(772.5,853) scale(0.975,1)" font-size="9.7" fill="#000" stroke="#000" stroke-width="0.15" text-anchor="start">28 Oct 16:00</text>
<rect x="837" y="841" width="1" height="3" fill="#000"/>
<text transform="translate(836.5,853) scale(0.975,1)" font-size="9.7" fill="#000" stroke="#000" stroke-width="0.15" text-anchor="start">31 Oct 08:00</text>
<rect x="901" y="841" width="1" height="3" fill="#000"/>
<text transform="translate(900.5,853) scale(0.975,1)" font-size="9.7" fill="#000" stroke="#000" stroke-width="0.15" text-anchor="start">1 Nov 00:00</text>
<rect x="965" y="841" width="1" height="3" fill="#000"/>
<text transform="translate(964.5,853) scale(0.975,1)" font-size="9.7" fill="#000" stroke="#000" stroke-width="0.15" text-anchor="start">1 Nov 16:00</text>
<rect x="1029" y="841" width="1" height="3" fill="#000"/>
<text transform="translate(1028.5,853) scale(0.975,1)" font-size="9.7" fill="#000" stroke="#000" stroke-width="0.15" text-anchor="start">2 Nov 08:00</text>
<rect x="1093" y="841" width="1" height="3" fill="#000"/>
<text transform="translate(1092.5,853) scale(0.975,1)" font-size="9.7" fill="#000" stroke="#000" stroke-width="0.15" text-anchor="start">3 Nov 00:00</text>
<rect x="1157" y="841" width="1" height="3" fill="#000"/>
<text transform="translate(1156.5,853) scale(0.975,1)" font-size="9.7" fill="#000" stroke="#000" stroke-width="0.15" text-anchor="start">3 Nov 16:00</text>
<rect x="1221" y="841" width="1" height="3" fill="#000"/>
<text transform="translate(1220.5,853) scale(0.975,1)" font-size="9.7" fill="#000" stroke="#000" stroke-width="0.15" text-anchor="start">4 Nov 08:00</text>
<rect x="1285" y="841" width="1" height="3" fill="#000"/>
<text transform="translate(1284.5,853) scale(0.975,1)" font-size="9.7" fill="#000" stroke="#000" stroke-width="0.15" text-anchor="start">7 Nov 00:00</text>
<rect x="1349" y="841" width="1" height="3" fill="#000"/>
<text transform="translate(1348.5,853) scale(0.975,1)" font-size="9.7" fill="#000" stroke="#000" stroke-width="0.15" text-anchor="start">7 Nov 16:00</text>
<rect x="2" y="1" width="1" height="19" fill="#909090"/>
<rect x="3" y="1" width="1" height="19" fill="#fcfcfc"/>
<g><path d="M12.800 2.500h7.400l3.300 3.300v10h-10.700z" fill="#fdfdfd" stroke="#7a7a7a"/><path d="M20.200 2.500v3.300h3.300" fill="#e4e4e4" stroke="#7a7a7a"/><path d="M14.500 5h2.500M14.500 8h5.500M14.500 10.500h3.500M14.500 13h2" stroke="#9a9a9a"/><path d="M20.300 8.600h3.600v3.700h3.800v3.600h-3.800v3.700h-3.600v-3.700h-3.800v-3.600h3.800z" fill="#22d232" stroke="#0c8c18" stroke-width=".9"/><path d="M21.200 9.500h1.800v9.200M17.500 13.400h9.200" stroke="#7dff86" stroke-width=".9" fill="none" stroke-opacity=".8"/></g>
<text x="31" y="13" font-size="12" fill="#000" stroke="#000" stroke-width="0.19" text-anchor="start" font-family='"Liberation Sans","Noto Sans CJK SC",sans-serif'>新订单</text>
<g><path d="M84.700 3.200l10.100 7.500-6.900 7.400-9-6.100z" fill="#c98f1c" stroke="#a06a14" stroke-width=".8"/><path d="M84.700 3.800l8.600 6.400-5.600 5.800-7.800-5.200z" fill="#f0c63a"/><path d="M84.900 5.500l6 4.600-3.600 3.600-5.300-3.600z" fill="#f8df70"/><path d="M79.500 12.300l8.400 5.600 6.700-7" fill="none" stroke="#8a5a10" stroke-width="1.300"/></g>
<g><path d="M109.200 2.600l5.500-.8 5.800 1.200v8h-11.300z" fill="#1e9cff"/><path d="M109.200 2.600l3.300 1.300v7.100h-3.300z" fill="#0a74dc"/><path d="M109.200 2.600l5.500-.8 5.800 1.200-8 .9z" fill="#6cc4ff"/><rect x="113.600" y="5.200" width="5.800" height="4.200" fill="#e6f3ff"/><path d="M114.500 7.200h4" stroke="#3a8ae0" stroke-width=".8"/><path d="M110.300 17.400a3.100 3.100 0 0 1-.5-6.100a3.800 3.800 0 0 1 7.100-1a3.200 3.200 0 0 1 4.700 3.200a2.100 2.100 0 0 1-.9 3.900z" fill="#f1f4f9" stroke="#5f7fb4" stroke-width=".9"/><path d="M109.500 15.600h12.500" stroke="#c3ccdc" stroke-width="1.400"/></g>
<g fill="none"><path d="M143 10v8a8 8 0 0 0 0-16z" fill="#58b058" fill-opacity=".38"/><circle cx="143" cy="10" r="7.600" stroke="#8aa8e0" stroke-width="1" stroke-opacity=".7"/><circle cx="143" cy="10" r="5.200" stroke="#6a90e0" stroke-width="1.100" stroke-opacity=".8"/><circle cx="143" cy="10" r="3" stroke="#5a86dc" stroke-width="1" stroke-opacity=".8"/><circle cx="142.700" cy="9.700" r="1.700" fill="#2458d0"/><path d="M143.300 10v8" stroke="#22a022" stroke-width="1.500"/></g>
<g><path d="M162.500 8.500h15l-7.600 9.400z" fill="#f4d23c" stroke="#c89a1c" stroke-width=".7"/><path d="M163.500 9h6l-1 6z" fill="#fbe98a"/><ellipse cx="170" cy="6.800" rx="8" ry="2.700" fill="#4a9ed8" stroke="#2f7ab4" stroke-width=".7"/><ellipse cx="170" cy="4.200" rx="4.100" ry="2.400" fill="#6cb8ea" stroke="#2f7ab4" stroke-width=".7"/><circle cx="174.600" cy="13.600" r="4.300" fill="#e02812" stroke="#b81c0c" stroke-width=".6"/><rect x="173.200" y="12.200" width="2.800" height="2.800" fill="#fff"/></g>
<text x="183.500" y="13" font-size="12" fill="#000" stroke="#000" stroke-width="0.19" text-anchor="start" font-family='"Liberation Sans","Noto Sans CJK SC",sans-serif'>自动交易</text>
<rect x="238" y="0" width="1" height="20" fill="#909090"/>
<rect x="239" y="0" width="1" height="20" fill="#fcfcfc"/>
<rect x="242" y="0" width="3" height="1" fill="#b0b0b0"/>
<rect x="242" y="1" width="3" height="1" fill="#fafafa"/>
<rect x="242" y="2" width="3" height="1" fill="#b0b0b0"/>
<rect x="242" y="3" width="3" height="1" fill="#fafafa"/>
<rect x="242" y="4" width="3" height="1" fill="#b0b0b0"/>
<rect x="242" y="5" width="3" height="1" fill="#fafafa"/>
<rect x="242" y="6" width="3" height="1" fill="#b0b0b0"/>
<rect x="242" y="7" width="3" height="1" fill="#fafafa"/>
<rect x="242" y="8" width="3" height="1" fill="#b0b0b0"/>
<rect x="242" y="9" width="3" height="1" fill="#fafafa"/>
<rect x="242" y="10" width="3" height="1" fill="#b0b0b0"/>
<rect x="242" y="11" width="3" height="1" fill="#fafafa"/>
<rect x="242" y="12" width="3" height="1" fill="#b0b0b0"/>
<rect x="242" y="13" width="3" height="1" fill="#fafafa"/>
<rect x="242" y="14" width="3" height="1" fill="#b0b0b0"/>
<rect x="242" y="15" width="3" height="1" fill="#fafafa"/>
<rect x="242" y="16" width="3" height="1" fill="#b0b0b0"/>
<rect x="242" y="17" width="3" height="1" fill="#fafafa"/>
<rect x="242" y="18" width="3" height="1" fill="#b0b0b0"/>
<rect x="242" y="19" width="3" height="1" fill="#fafafa"/>
<path d="M256.500 4.500v13.500M254 15.500h13.500" fill="none" stroke="#5a5a5a" stroke-width="1.100"/><path d="M256.500 3.500l1.800 2.500h-3.600zM268.500 15.500l-2.500 1.800v-3.600z" fill="#5a5a5a"/>
<path d="M262.500 5v9M262.500 6.500h2.600M260 12.500h2.500" stroke="#149018" stroke-width="1.300" fill="none"/>
<rect x="276" y="0" width="1" height="20" fill="#909090"/>
<rect x="277" y="0" width="1" height="20" fill="#fcfcfc"/>
<rect x="278" y="0" width="24" height="20" fill="#f8f8f8"/>
<path d="M284.500 4.500v13.500M282 15.500h13.500" fill="none" stroke="#5a5a5a" stroke-width="1.100"/><path d="M284.500 3.500l1.800 2.500h-3.600zM296.500 15.500l-2.500 1.800v-3.600z" fill="#5a5a5a"/>
<path d="M290.500 2.200v11.800" stroke="#0f9a14" stroke-width="1.300"/><rect x="288.400" y="4.600" width="4.300" height="6.900" fill="#4fe85c" stroke="#0f9a14" stroke-width="1.100"/><rect x="289.700" y="5.400" width="1.400" height="5" fill="#a4ffae"/>
<path d="M312.500 4.500v13.500M310 15.500h13.500" fill="none" stroke="#5a5a5a" stroke-width="1.100"/><path d="M312.500 3.500l1.800 2.500h-3.600zM324.500 15.500l-2.500 1.800v-3.600z" fill="#5a5a5a"/>
<path d="M311.300 12.800c2.300-2.800 4-5.700 5.900-5.600s3.300 3 5.600 4" stroke="#2a8a2e" stroke-width="1.100" fill="none"/>
<rect x="333" y="0" width="1" height="20" fill="#909090"/>
<rect x="334" y="0" width="1" height="20" fill="#fcfcfc"/>
<g><path d="M351.500 11.500l4.900 4.300" stroke="#a87010" stroke-width="3.600" stroke-linecap="round"/><path d="M351.500 11.500l4.900 4.300" stroke="#f0d030" stroke-width="1.900" stroke-linecap="round"/><circle cx="348" cy="8" r="5.600" fill="#cce8f8" stroke="#2f72c4" stroke-width="1.300"/><circle cx="347.200" cy="6.800" r="2.800" fill="#e8f6fd" fill-opacity=".8"/><path d="M344.600 8h6.800M348 4.600v6.800" stroke="#3f7fa8" stroke-width="2"/></g>
<g><path d="M379.500 11.500l4.900 4.300" stroke="#a87010" stroke-width="3.600" stroke-linecap="round"/><path d="M379.500 11.500l4.900 4.300" stroke="#f0d030" stroke-width="1.900" stroke-linecap="round"/><circle cx="376" cy="8" r="5.600" fill="#cce8f8" stroke="#2f72c4" stroke-width="1.300"/><circle cx="375.200" cy="6.800" r="2.800" fill="#e8f6fd" fill-opacity=".8"/><path d="M372.600 8h6.800" stroke="#3f7fa8" stroke-width="2"/></g>
<rect x="398" y="2" width="8" height="8" fill="#34a414"/><rect x="399.200" y="5" width="5.600" height="3.800" fill="#fff"/><rect x="400.200" y="6.100" width="3.600" height="1" fill="#a8dc90"/><rect x="400.600" y="7.800" width="2.800" height="1" fill="#34a414"/><rect x="399" y="3" width="1" height="1" fill="#a8dc90"/>
<rect x="406" y="2" width="8" height="8" fill="#1a4cc8"/><rect x="407.200" y="5" width="5.600" height="3.800" fill="#fff"/><rect x="408.200" y="6.100" width="3.600" height="1" fill="#9cb8f0"/><rect x="408.600" y="7.800" width="2.800" height="1" fill="#1a4cc8"/><rect x="407" y="3" width="1" height="1" fill="#9cb8f0"/>
<rect x="398" y="10" width="8" height="8" fill="#1a4cc8"/><rect x="399.200" y="13" width="5.600" height="3.800" fill="#fff"/><rect x="400.200" y="14.100" width="3.600" height="1" fill="#9cb8f0"/><rect x="400.600" y="15.800" width="2.800" height="1" fill="#1a4cc8"/><rect x="399" y="11" width="1" height="1" fill="#9cb8f0"/>
<rect x="406" y="10" width="8" height="8" fill="#34a414"/><rect x="407.200" y="13" width="5.600" height="3.800" fill="#fff"/><rect x="408.200" y="14.100" width="3.600" height="1" fill="#a8dc90"/><rect x="408.600" y="15.800" width="2.800" height="1" fill="#34a414"/><rect x="407" y="11" width="1" height="1" fill="#a8dc90"/>
<rect x="423" y="0" width="1" height="20" fill="#909090"/>
<rect x="424" y="0" width="1" height="20" fill="#fcfcfc"/>
<rect x="428" y="0" width="1" height="20" fill="#909090"/>
<rect x="429" y="0" width="1" height="20" fill="#fcfcfc"/>
<rect x="430" y="0" width="24" height="20" fill="#f8f8f8"/>
<path d="M436.500 4.500v13.500M434 15.500h13.500" fill="none" stroke="#5a5a5a" stroke-width="1.100"/><path d="M436.500 3.500l1.800 2.500h-3.600zM448.500 15.500l-2.500 1.800v-3.600z" fill="#5a5a5a"/>
<path d="M441.300 6.200l3.600 3.200-3.600 3.200z" fill="#7be886" stroke="#12a018" stroke-width="1.100"/>
<rect x="456" y="0" width="1" height="20" fill="#909090"/>
<rect x="457" y="0" width="1" height="20" fill="#fcfcfc"/>
<rect x="458" y="0" width="24" height="20" fill="#f8f8f8"/>
<path d="M464.500 4.500v13.500M462 15.500h13.500" fill="none" stroke="#5a5a5a" stroke-width="1.100"/><path d="M464.500 3.500l1.800 2.500h-3.600zM476.500 15.500l-2.500 1.800v-3.600z" fill="#5a5a5a"/>
<path d="M470.500 4v10" stroke="#1070a8" stroke-width="1.300"/><path d="M476 9.400h-3" stroke="#e05000" stroke-width="1.100"/><path d="M471.400 9.400l2.800-2v4z" fill="#e05000"/>
<rect x="485" y="0" width="1" height="20" fill="#909090"/>
<rect x="486" y="0" width="1" height="20" fill="#fcfcfc"/>
<g><path d="M495.800 2.500h7l3.300 3.300v10h-10.300z" fill="#fdfdfd" stroke="#7a7a7a"/><path d="M502.800 2.500v3.300h3.300" fill="#e4e4e4" stroke="#7a7a7a"/><path d="M498.300 12.500V7.500q0-2 2.200-2M497.300 8.800h3" stroke="#5a5040" fill="none"/><path d="M503 8.600h3.600v3.700h3.800v3.600h-3.800v3.700h-3.600v-3.700h-3.800v-3.600h3.800z" fill="#22d232" stroke="#0c8c18" stroke-width=".9"/><path d="M503.900 9.500h1.800v9.200M500.200 13.400h9.200" stroke="#7dff86" stroke-width=".9" fill="none" stroke-opacity=".8"/></g>
<path d="M517 9h5l-2.500 3z" fill="#000"/>
<defs><linearGradient id="ck" x1="0" y1="0" x2="0" y2="1"><stop offset="0" stop-color="#3a8af0"/><stop offset="1" stop-color="#0a48a8"/></linearGradient></defs><g><circle cx="541" cy="9.800" r="8" fill="url(#ck)"/><circle cx="541" cy="9.800" r="5.700" fill="#f2f6fc"/><path d="M541 5v1M541 13.600v1M536.200 9.800h1M544.800 9.800h1" stroke="#8a96a8" stroke-width=".8"/><path d="M540.500 6.300l.5 3.700 2.800.8" stroke="#222" fill="none" stroke-width="1.300"/></g>
<path d="M556 9h5l-2.500 3z" fill="#000"/>
<g><rect x="572.500" y="3.500" width="15.400" height="13.500" fill="#fff" stroke="#3878c8"/><rect x="572" y="3" width="16.400" height="2.400" fill="#3878c8"/><rect x="573" y="3.600" width="9" height=".9" fill="#9cc4f0"/><path d="M572.500 11.500h15.400" stroke="#3878c8"/><path d="M574.500 9.300l2-.2 2-1.600 2.300 1.100 2.200-.2 2.300-1.400" stroke="#a02010" stroke-width="1.300" fill="none"/><path d="M574.800 14.600l2-.900 2.200 1 2.800-2.300 2.600 2.400" stroke="#108020" stroke-width="1.300" fill="none"/></g>
<path d="M595 9h5l-2.500 3z" fill="#000"/>
<rect x="606" y="0" width="1" height="22" fill="#909090"/>
<rect x="607" y="0" width="1" height="22" fill="#fcfcfc"/>
<rect x="610" y="0" width="3" height="1" fill="#b0b0b0"/>
<rect x="610" y="1" width="3" height="1" fill="#fafafa"/>
<rect x="610" y="2" width="3" height="1" fill="#b0b0b0"/>
<rect x="610" y="3" width="3" height="1" fill="#fafafa"/>
<rect x="610" y="4" width="3" height="1" fill="#b0b0b0"/>
<rect x="610" y="5" width="3" height="1" fill="#fafafa"/>
<rect x="610" y="6" width="3" height="1" fill="#b0b0b0"/>
<rect x="610" y="7" width="3" height="1" fill="#fafafa"/>
<rect x="610" y="8" width="3" height="1" fill="#b0b0b0"/>
<rect x="610" y="9" width="3" height="1" fill="#fafafa"/>
<rect x="610" y="10" width="3" height="1" fill="#b0b0b0"/>
<rect x="610" y="11" width="3" height="1" fill="#fafafa"/>
<rect x="610" y="12" width="3" height="1" fill="#b0b0b0"/>
<rect x="610" y="13" width="3" height="1" fill="#fafafa"/>
<rect x="610" y="14" width="3" height="1" fill="#b0b0b0"/>
<rect x="610" y="15" width="3" height="1" fill="#fafafa"/>
<rect x="610" y="16" width="3" height="1" fill="#b0b0b0"/>
<rect x="610" y="17" width="3" height="1" fill="#fafafa"/>
<rect x="610" y="18" width="3" height="1" fill="#b0b0b0"/>
<rect x="610" y="19" width="3" height="1" fill="#fafafa"/>
<rect x="616" y="0" width="1" height="20" fill="#909090"/>
<rect x="617" y="0" width="1" height="20" fill="#fcfcfc"/>
<rect x="618" y="0" width="23" height="20" fill="#f8f8f8"/>
<path d="M624.500 3.500v11l2.800-2.600 2 4.600 1.800-.8-2-4.500h3.600z" fill="#444"/>
<path d="M656.500 3v6M656.500 12v6M649 10.500h6M658 10.500h6" stroke="#444" stroke-width="1.200"/>
<rect x="673" y="0" width="1" height="20" fill="#909090"/>
<rect x="674" y="0" width="1" height="20" fill="#fcfcfc"/>
<path d="M690.500 4v12.500" stroke="#444" stroke-width="1.200"/>
<path d="M713 10.500h12" stroke="#444" stroke-width="1.200"/>
<path d="M741 16.500l12-11.500" stroke="#444" stroke-width="1.200"/>
<g stroke="#444" fill="none" stroke-width="1"><path d="M766.900 11.200l8.100-7.400M768.100 16l12.500-11M772 16.900l9.500-8.600M769.500 15v-5M772.800 13v-6M775.800 11v-6M778.600 9v-7" /></g>
<text transform="translate(778,19) scale(0.94,1)" font-size="7" fill="#333" stroke="#333" stroke-width="0.15" text-anchor="start" font-weight="bold">E</text>
<path d="M796 3.500h14" stroke="#444" stroke-dasharray="1 1"/>
<path d="M796 6.500h14" stroke="#444" stroke-dasharray="1 1"/>
<path d="M796 10.500h14" stroke="#444" stroke-dasharray="1 1"/>
<path d="M796 14.500h9" stroke="#444" stroke-dasharray="1 1"/>
<text transform="translate(806,19) scale(0.94,1)" font-size="7" fill="#333" stroke="#333" stroke-width="0.15" text-anchor="start" font-weight="bold">F</text>
<text transform="translate(826.8,15.1) scale(0.9,1)" font-size="12.8" fill="#505050" stroke="#505050" stroke-width="0.15" text-anchor="start">A</text>
<rect x="853.500" y="4.500" width="11" height="12" fill="none" stroke="#444" stroke-dasharray="1 1"/>
<text transform="translate(859,14.9) scale(1.08,1)" font-size="11.3" fill="#505050" stroke="#505050" stroke-width="0.5" text-anchor="middle">T</text>
<path d="M883.500 4.300l3.400 3.800h-6.800zM891 16.400l-3.400-3.800h6.800z" fill="#333"/><path d="M882.300 10.200l3 3 5.300-5.600" stroke="#333" fill="none" stroke-width="1.600"/>
<path d="M901 9h5l-2.500 3z" fill="#000"/>
<rect x="912" y="0" width="1" height="22" fill="#909090"/>
<rect x="913" y="0" width="1" height="22" fill="#fcfcfc"/>
<rect x="916" y="0" width="3" height="1" fill="#b0b0b0"/>
<rect x="916" y="1" width="3" height="1" fill="#fafafa"/>
<rect x="916" y="2" width="3" height="1" fill="#b0b0b0"/>
<rect x="916" y="3" width="3" height="1" fill="#fafafa"/>
<rect x="916" y="4" width="3" height="1" fill="#b0b0b0"/>
<rect x="916" y="5" width="3" height="1" fill="#fafafa"/>
<rect x="916" y="6" width="3" height="1" fill="#b0b0b0"/>
<rect x="916" y="7" width="3" height="1" fill="#fafafa"/>
<rect x="916" y="8" width="3" height="1" fill="#b0b0b0"/>
<rect x="916" y="9" width="3" height="1" fill="#fafafa"/>
<rect x="916" y="10" width="3" height="1" fill="#b0b0b0"/>
<rect x="916" y="11" width="3" height="1" fill="#fafafa"/>
<rect x="916" y="12" width="3" height="1" fill="#b0b0b0"/>
<rect x="916" y="13" width="3" height="1" fill="#fafafa"/>
<rect x="916" y="14" width="3" height="1" fill="#b0b0b0"/>
<rect x="916" y="15" width="3" height="1" fill="#fafafa"/>
<rect x="916" y="16" width="3" height="1" fill="#b0b0b0"/>
<rect x="916" y="17" width="3" height="1" fill="#fafafa"/>
<rect x="916" y="18" width="3" height="1" fill="#b0b0b0"/>
<rect x="916" y="19" width="3" height="1" fill="#fafafa"/>
<rect x="1063" y="1" width="24" height="20" fill="#f8f8f8"/>
<rect x="1062" y="1" width="1" height="20" fill="#c0c0c0"/>
<rect x="1090" y="0" width="26" height="20" fill="#f4f4f4"/>
<rect x="1090" y="20" width="26" height="1" fill="#a0a0a0"/>
<rect x="1115" y="0" width="1" height="21" fill="#a0a0a0"/>
<rect x="1090" y="0" width="1" height="20" fill="#dcdcdc"/>
<text transform="translate(933.8,14.2) scale(0.92,1)" font-size="9.9" fill="#484848" stroke="#484848" stroke-width="0.15" text-anchor="middle">M1</text>
<text transform="translate(962,14.2) scale(0.92,1)" font-size="9.9" fill="#484848" stroke="#484848" stroke-width="0.15" text-anchor="middle">M5</text>
<text transform="translate(990.5,14.2) scale(0.92,1)" font-size="9.9" fill="#484848" stroke="#484848" stroke-width="0.15" text-anchor="middle">M15</text>
<text transform="translate(1018.5,14.2) scale(0.92,1)" font-size="9.9" fill="#484848" stroke="#484848" stroke-width="0.15" text-anchor="middle">M30</text>
<text transform="translate(1046.5,14.2) scale(0.92,1)" font-size="9.9" fill="#484848" stroke="#484848" stroke-width="0.15" text-anchor="middle">H1</text>
<text transform="translate(1073.8,14.2) scale(0.92,1)" font-size="9.9" fill="#484848" stroke="#484848" stroke-width="0.15" text-anchor="middle">H4</text>
<text transform="translate(1131,14.2) scale(0.92,1)" font-size="9.9" fill="#484848" stroke="#484848" stroke-width="0.15" text-anchor="middle">W1</text>
<text transform="translate(1158,14.2) scale(0.92,1)" font-size="9.9" fill="#484848" stroke="#484848" stroke-width="0.15" text-anchor="middle">MN</text>
<text transform="translate(1101.5,13.2) scale(0.92,1)" font-size="9.9" fill="#000" stroke="#000" stroke-width="0.15" text-anchor="middle">D1</text>
<rect x="1173" y="0" width="1" height="21" fill="#909090"/>
<rect x="1174" y="0" width="1" height="21" fill="#fcfcfc"/>
<g><path d="M1641 10l-5 5" stroke="#2a55c8" stroke-width="2.200" stroke-linecap="round"/><circle cx="1643.700" cy="7.300" r="3.600" fill="#f4f4f8" stroke="#2a55c8" stroke-width="1.300"/></g>
<g><path d="M1661 12a5 4.500 0 0 1 10 0a5 4.500 0 0 1-5 4.500l-2.500 2v-2.300a5 4 0 0 1-2.500-4.200z" fill="#e4e6ea" stroke="#c4c6cc" stroke-width=".6"/><circle cx="1674.600" cy="7.400" r="8" fill="#d8381c"/><path d="M1672.200 5.400l2.200-1.800h1.300v8.200h-1.900v-5.800l-1.600 1.100z" fill="#fff"/></g>
</svg>
</body></html>
